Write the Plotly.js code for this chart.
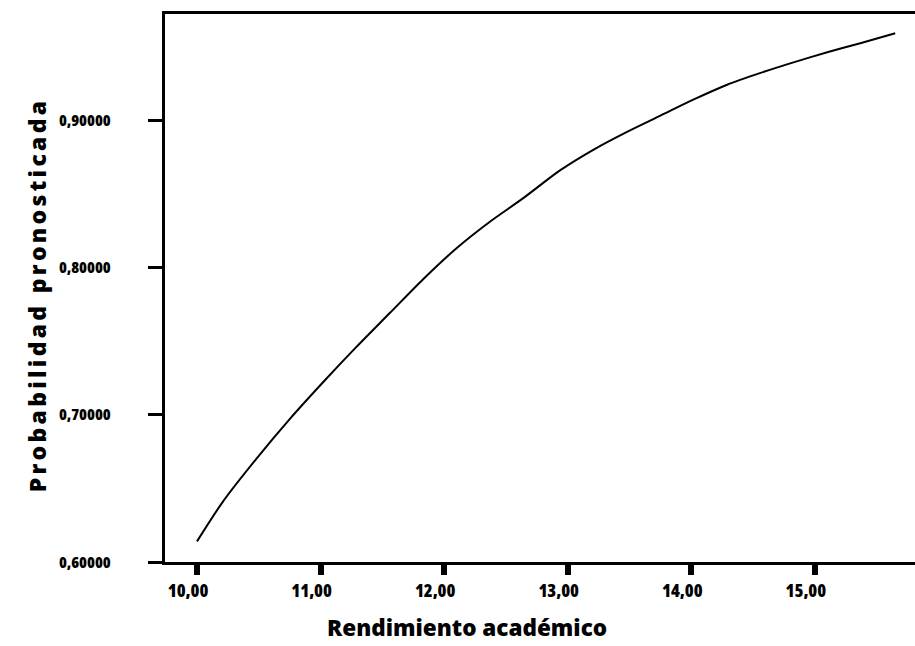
<!DOCTYPE html>
<html>
<head>
<meta charset="utf-8">
<script src="https://cdn.plot.ly/plotly-3.0.1.min.js"></script>
<style>
html,body{margin:0;padding:0;background:#fff;}
#chart{width:915px;height:646px;}
.xtick text, .ytick text { font-stretch: 75% !important; }
.annotation[data-index="1"] text { letter-spacing: 3.3px; }
</style>
</head>
<body>
<div id="chart"></div>
<script>
const rendimiento = [10.0, 10.21, 10.48, 10.75, 11.02, 11.29, 11.56, 11.83, 12.10, 12.37, 12.64, 12.94, 13.21, 13.48, 13.75, 14.02, 14.29, 14.56, 14.82, 15.10, 15.36, 15.65];
const probabilidad = [0.614, 0.641, 0.670, 0.697, 0.722, 0.746, 0.769, 0.792, 0.813, 0.831, 0.847, 0.866, 0.880, 0.892, 0.903, 0.914, 0.924, 0.932, 0.939, 0.946, 0.952, 0.9589];
const xTickVals = [10, 11, 12, 13, 14, 15];
const xTickText = ["10,00", "11,00", "12,00", "13,00", "14,00", "15,00"];
const yTickVals = [0.6, 0.7, 0.8, 0.9];
const yTickText = ["0,60000", "0,70000", "0,80000", "0,90000"];
const xTitle = "Rendimiento académico";
const yTitle = "Probabilidad pronosticada";

const FONT = '"Open Sans", "Roboto Condensed", sans-serif';

const trace = {
  x: rendimiento, y: probabilidad, type: 'scatter', mode: 'lines',
  line: {color: '#000', width: 2, shape: 'spline', smoothing: 0.8}, hoverinfo: 'skip'
};
const layout = {
  width: 915, height: 646,
  margin: {l: 165, r: 0, t: 14, b: 84},
  paper_bgcolor: '#fff', plot_bgcolor: '#fff',
  showlegend: false,
  font: {family: FONT, color: '#000', weight: 800},
  xaxis: {
    range: [9.741, 15.81], showgrid: false, zeroline: false,
    showline: true, linecolor: '#000', linewidth: 3, mirror: true,
    ticks: 'outside', ticklen: 10, tickwidth: 6, tickcolor: '#000',
    tickvals: xTickVals, ticktext: xTickText,
    ticklabelshift: -9, ticklabelstandoff: 0,
    tickfont: {family: FONT, size: 18, color: '#000', weight: 800}
  },
  yaxis: {
    range: [0.6, 0.972], showgrid: false, zeroline: false,
    showline: true, linecolor: '#000', linewidth: 3, mirror: false,
    ticks: 'outside', ticklen: 14, tickwidth: 3, tickcolor: '#000',
    tickvals: yTickVals, ticktext: yTickText,
    ticklabelstandoff: 34,
    tickfont: {family: FONT, size: 16, color: '#000', weight: 800}
  },
  annotations: [
    {text: xTitle, xref: 'paper', yref: 'paper', x: 0.4027, y: -0.1204,
     xanchor: 'center', yanchor: 'middle', showarrow: false,
     font: {family: FONT, size: 22.5, color: '#000', weight: 800}},
    {text: yTitle, xref: 'paper', yref: 'paper', x: -0.1707, y: 0.487,
     xanchor: 'center', yanchor: 'middle', showarrow: false, textangle: -90,
     font: {family: FONT, size: 23, color: '#000', weight: 800}}
  ]
};
Plotly.newPlot('chart', [trace], layout, {displayModeBar: false, staticPlot: true});
</script>
</body>
</html>
